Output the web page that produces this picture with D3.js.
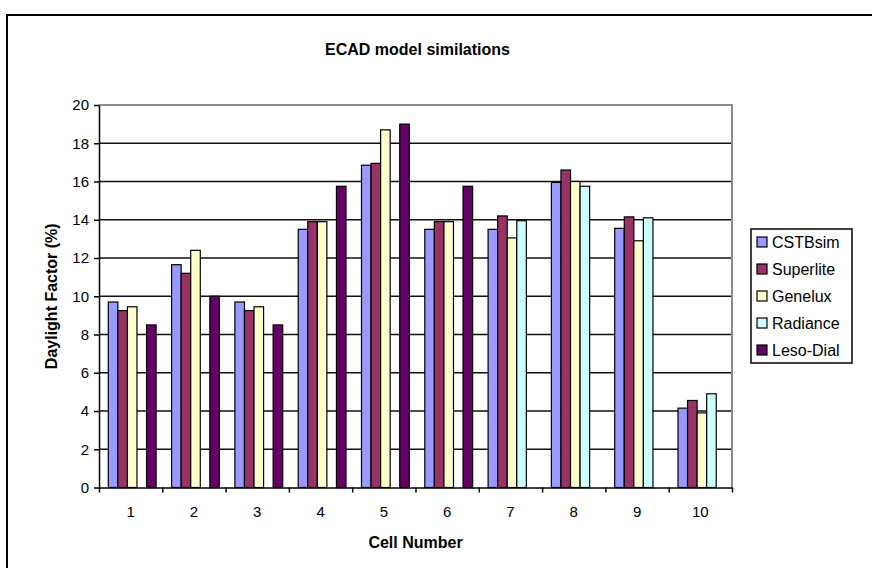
<!DOCTYPE html>
<html>
<head>
    <title>ECAD model similations</title>
    <script src="https://d3js.org/d3.v7.min.js"></script>
    <style>
        body { margin: 0; background: #fff; }
        svg text { font-family: 'Liberation Sans', Arial, sans-serif; fill: #000; }
        .axis path, .axis line { stroke: #000; stroke-width: 1.5px; }
        .axis text { font-size: 15px; }
    </style>
</head>
<body>
<div id="chart"></div>
<script>
    // data
    const cells = ['1', '2', '3', '4', '5', '6', '7', '8', '9', '10'];
    const series = ['CSTBsim', 'Superlite', 'Genelux', 'Radiance', 'Leso-Dial'];
    const colors = ['#9999ff', '#993366', '#ffffcc', '#ccffff', '#660066'];

    const cstbsim   = [9.7, 11.65, 9.7, 13.5, 16.85, 13.5, 13.5, 15.95, 13.55, 4.15];
    const superlite = [9.25, 11.2, 9.25, 13.9, 16.95, 13.9, 14.2, 16.6, 14.15, 4.55];
    const genelux   = [9.45, 12.4, 9.45, 13.9, 18.7, 13.9, 13.05, 16.0, 12.9, 3.9];
    const radiance  = [null, null, null, null, null, null, 13.95, 15.75, 14.1, 4.9];
    const lesoDial  = [8.5, 10.0, 8.5, 15.75, 19.0, 15.75, null, null, null, null];

    const yTicks = d3.range(0, 21, 2);

    const width = 872, height = 568;
    const plotLeft = 99, plotRight = 732, plotTop = 105, plotBottom = 487.5;

    const svg = d3.select('#chart').append('svg')
        .attr('width', width)
        .attr('height', height);

    // outer chart frame (cut by the picture edge on right and bottom)
    svg.append('rect')
        .attr('x', 7).attr('y', 15)
        .attr('width', 900).attr('height', 600)
        .attr('fill', 'none')
        .attr('stroke', '#000')
        .attr('stroke-width', 2);

    const y = d3.scaleLinear().domain([0, 20]).range([plotBottom, plotTop]);
    const x0 = d3.scaleBand().domain(cells).range([plotLeft, plotRight]);
    const x1 = d3.scaleBand().domain(series)
        .range([0, x0.bandwidth()])
        .paddingOuter(0.81)
        .align(0.6);
    const xb = d3.scaleLinear().domain([0, cells.length]).range([plotLeft, plotRight]);

    // gridlines
    svg.append('g')
        .selectAll('line')
        .data(yTicks.filter(d => d > 0 && d < 20))
        .join('line')
        .attr('x1', plotLeft).attr('x2', plotRight)
        .attr('y1', d => y(d)).attr('y2', d => y(d))
        .attr('stroke', '#111')
        .attr('stroke-width', 1.5);

    // plot area border top and right (grey)
    svg.append('path')
        .attr('d', `M${plotLeft},${y(20)}H${plotRight}V${plotBottom}`)
        .attr('fill', 'none')
        .attr('stroke', '#8c8c8c')
        .attr('stroke-width', 2);

    // bars
    const table = [cstbsim, superlite, genelux, radiance, lesoDial];
    const barData = [];
    cells.forEach((c, i) => {
        series.forEach((s, j) => {
            if (table[j][i] != null) barData.push({ cell: c, s: s, j: j, v: table[j][i] });
        });
    });

    svg.append('g')
        .selectAll('rect')
        .data(barData)
        .join('rect')
        .attr('x', d => x0(d.cell) + x1(d.s))
        .attr('y', d => y(d.v))
        .attr('width', x1.bandwidth())
        .attr('height', d => y(0) - y(d.v))
        .attr('fill', d => colors[d.j])
        .attr('stroke', '#000')
        .attr('stroke-width', 1.2);

    // y axis
    svg.append('g')
        .attr('class', 'axis')
        .attr('transform', `translate(${plotLeft},0)`)
        .call(d3.axisLeft(y).tickValues(yTicks).tickSize(5).tickSizeOuter(0).tickPadding(5));

    // x axis: ticks at category boundaries
    svg.append('g')
        .attr('class', 'axis')
        .attr('transform', `translate(0,${plotBottom})`)
        .call(d3.axisBottom(xb).tickValues(d3.range(0, cells.length + 1)).tickFormat('').tickSize(5).tickSizeOuter(0));

    // x labels centred in each category
    svg.append('g')
        .attr('class', 'axis')
        .attr('transform', `translate(0,${plotBottom})`)
        .call(d3.axisBottom(x0).tickSize(0).tickPadding(19))
        .call(g => g.select('.domain').remove());

    // titles
    svg.append('text')
        .attr('x', (plotLeft + plotRight) / 2 + 2)
        .attr('y', 55)
        .attr('text-anchor', 'middle')
        .style('font-size', '16px')
        .style('font-weight', 'bold')
        .text('ECAD model similations');

    svg.append('text')
        .attr('x', (plotLeft + plotRight) / 2)
        .attr('y', 548)
        .attr('text-anchor', 'middle')
        .style('font-size', '16px')
        .style('font-weight', 'bold')
        .text('Cell Number');

    svg.append('text')
        .attr('transform', `translate(57,${(plotTop + plotBottom) / 2}) rotate(-90)`)
        .attr('text-anchor', 'middle')
        .style('font-size', '16px')
        .style('font-weight', 'bold')
        .text('Daylight Factor (%)');

    // legend
    const legend = svg.append('g').attr('transform', 'translate(751,229)');
    legend.append('rect')
        .attr('width', 101).attr('height', 134)
        .attr('fill', '#fff')
        .attr('stroke', '#000')
        .attr('stroke-width', 1.5);

    const item = legend.selectAll('g.item')
        .data(series)
        .join('g')
        .attr('class', 'item')
        .attr('transform', (d, i) => `translate(6,${13 + i * 27})`);

    item.append('rect')
        .attr('x', 0).attr('y', -5)
        .attr('width', 10).attr('height', 10)
        .attr('fill', (d, i) => colors[i])
        .attr('stroke', '#000')
        .attr('stroke-width', 1.2);

    item.append('text')
        .attr('x', 15)
        .attr('y', 6)
        .style('font-size', '16px')
        .text(d => d);
</script>
</body>
</html>
